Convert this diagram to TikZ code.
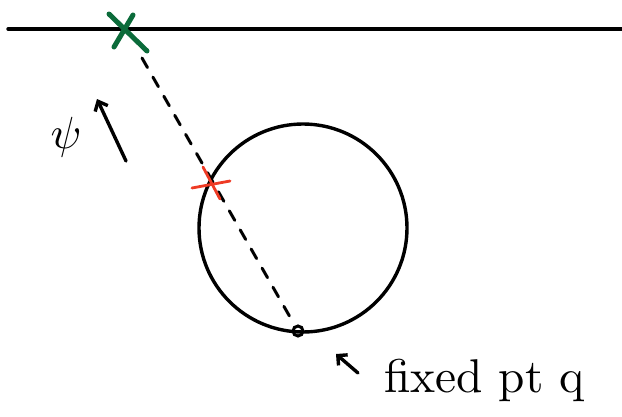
\documentclass[tikz,border=0pt]{standalone}
\usetikzlibrary{arrows.meta}
\definecolor{dgreen}{HTML}{0B6B3A}
\definecolor{rred}{HTML}{EE3A24}
\tikzset{
  ink/.style={line width=3.4pt, line cap=round, black},
  gx/.style={line width=5pt, line cap=round, dgreen},
  rx/.style={line width=2.8pt, line cap=round, rred},
  dashline/.style={line width=3pt, dash pattern=on 11pt off 11pt, line cap=round},
  lbl/.style={inner sep=0pt}
}
\begin{document}
\begin{tikzpicture}[x=1pt,y=-1pt]
\useasboundingbox (0,0) rectangle (622,416);
% top line
\coordinate (L1) at (8,29);
\coordinate (L2) at (622,29);
\draw[ink] (L1) -- (L2);
% green X
\coordinate (g1) at (109,14);
\coordinate (g2) at (147,51);
\coordinate (g3) at (133,15);
\coordinate (g4) at (114,47);
\draw[gx] (g1) -- (g2);
\draw[gx] (g3) -- (g4);
% circle
\node[circle, draw, line width=3.4pt, minimum size=208pt, inner sep=0pt] (C) at (303,228) {};
% fixed point q
\node[circle, draw, line width=3pt, minimum size=10pt, inner sep=0pt] (q) at (298,331) {};
% dashed line
\coordinate (d0) at (142,58);
\draw[dashline] (d0) -- (q);
% red X
\coordinate (r1) at (192,188);
\coordinate (r2) at (230,181);
\coordinate (r3) at (203,167);
\coordinate (r4) at (220,199);
\draw[rx] (r1) -- (r2);
\draw[rx] (r3) -- (r4);
% psi arrow
\coordinate (pa) at (126,161);
\coordinate (pb) at (97,99);
\draw[ink, -{Straight Barb[length=8pt,width=14pt]}] (pa) -- (pb);
\node[lbl] (psi) at (66,137) {\scalebox{4.5}{$\psi$}};
% fixed pt q arrow
\coordinate (fa) at (358,373);
\coordinate (fb) at (336,354);
\draw[ink, -{Straight Barb[length=7pt,width=14pt]}] (fa) -- (fb);
\node[lbl, anchor=base west] (fx) at (384,392) {\resizebox{200pt}{!}{fixed pt q}};
\end{tikzpicture}
\end{document}
